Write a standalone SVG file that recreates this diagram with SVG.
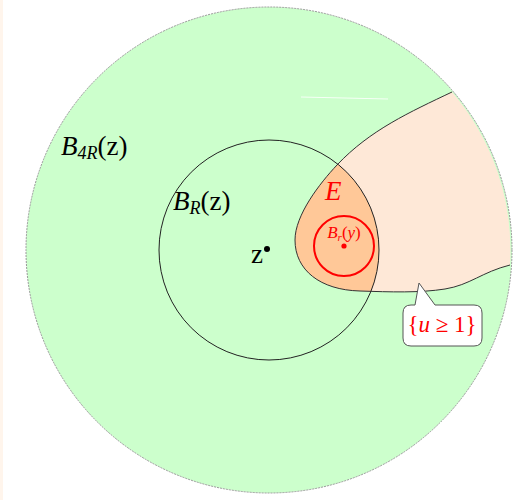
<svg xmlns="http://www.w3.org/2000/svg" width="520" height="500" viewBox="0 0 520 500">
<style>
text{font-family:'Liberation Serif','Times New Roman',serif;}
.it{font-style:italic;}
.edge{fill:none;stroke:#333;stroke-width:1;}
</style>
<defs>
<clipPath id="inR"><circle cx="269" cy="250" r="110"/></clipPath>
<path id="uRegion" d="M452,92 C410,112 370,130 337,165 C320,183 295,215 295,240 C295,270 320,290 360,291 C390,292 420,293 445,289 C470,285 482,272 510,265 A243 243 0 0 0 452,92 Z"/>
</defs>
<rect x="0" y="0" width="520" height="500" fill="#ffffff"/>
<rect x="0" y="0" width="3" height="500" fill="#fff5ec"/>
<g id="B4R">
<circle cx="269" cy="250" r="243" fill="#ccffcc" stroke="#999" stroke-width="1" stroke-dasharray="2,1"/>
</g>
<g id="uset">
<use href="#uRegion" fill="#fee8d7"/>
</g>
<g id="E">
<use href="#uRegion" fill="#ffc898" clip-path="url(#inR)"/>
</g>
<line x1="301" y1="97" x2="388" y2="99" stroke="#ffffff" stroke-width="1" opacity="0.85"/>
<g id="connectors">
<path class="edge" d="M452,92 C410,112 370,130 337,165 C320,183 295,215 295,240 C295,270 320,290 360,291 C390,292 420,293 445,289 C470,285 482,272 510,265"/>
</g>
<g id="BR">
<circle cx="269" cy="250" r="110" fill="none" stroke="#222" stroke-width="1"/>
</g>
<g id="Bry">
<circle cx="344" cy="246" r="30" fill="none" stroke="#ff0000" stroke-width="2"/>
<circle cx="344" cy="246" r="2.6" fill="#ff0000"/>
<text x="344" y="238" font-size="17" text-anchor="middle" fill="#ff0000" font-family="Liberation Serif, serif"><tspan class="it">B</tspan><tspan class="it" font-size="11" dy="3">r</tspan><tspan dy="-3">(</tspan><tspan class="it">y</tspan>)</text>
</g>
<g id="z">
<circle cx="267" cy="249" r="3" fill="#000"/>
<text x="251" y="263" font-size="27" fill="#000" font-family="Liberation Serif, serif">z</text>
</g>
<text class="it" x="325" y="200" font-size="27" fill="#ff0000" font-family="Liberation Serif, serif">E</text>
<text x="61" y="155" font-size="27" fill="#000" font-family="Liberation Serif, serif"><tspan class="it">B</tspan><tspan class="it" font-size="18" dy="4">4R</tspan><tspan dy="-4">(z)</tspan></text>
<text x="173" y="210" font-size="27" fill="#000" font-family="Liberation Serif, serif"><tspan class="it">B</tspan><tspan class="it" font-size="18" dy="4">R</tspan><tspan dy="-4">(z)</tspan></text>
<g id="callout">
<path d="M411,305 L415,305 L419,283 L435,305 L474,305 Q482,305 482,313 L482,338 Q482,346 474,346 L411,346 Q403,346 403,338 L403,313 Q403,305 411,305 Z" fill="#ffffff" stroke="#555" stroke-width="1"/>
<text x="442" y="332" font-size="23" text-anchor="middle" fill="#ff0000" font-family="Liberation Serif, serif">{<tspan class="it">u</tspan> ≥ 1}</text>
</g>
</svg>
